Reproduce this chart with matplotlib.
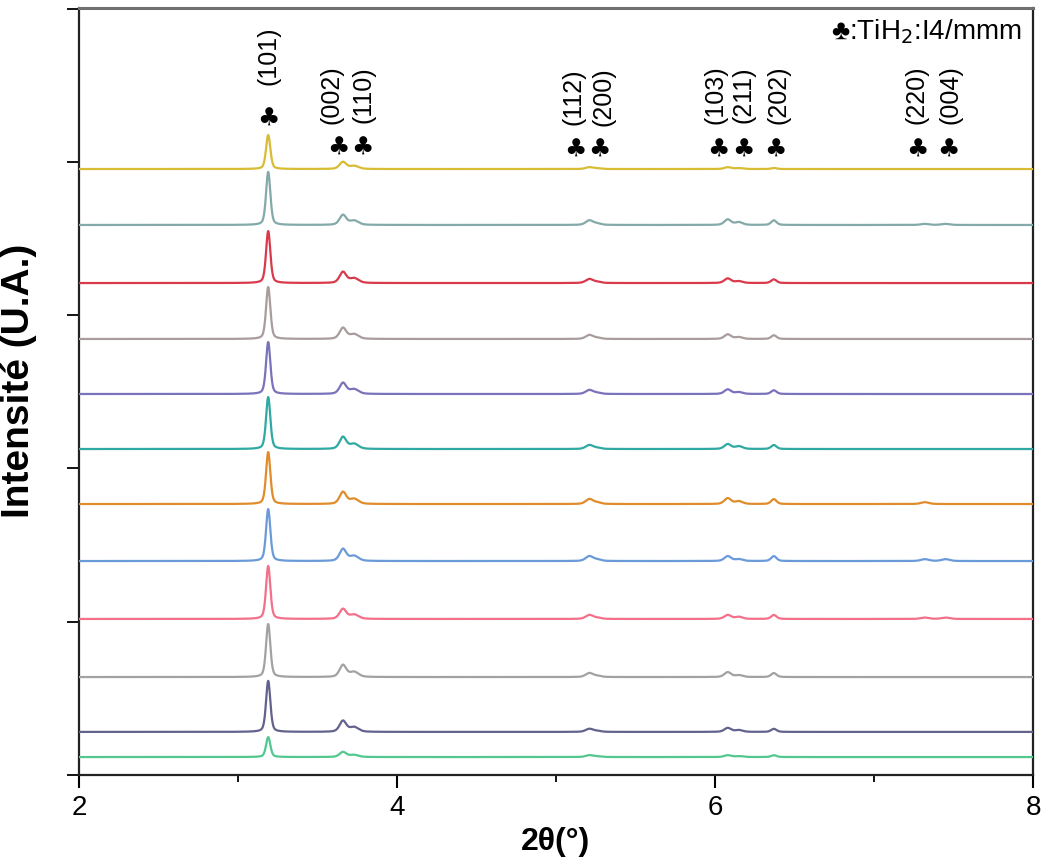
import numpy as np
import matplotlib
matplotlib.use("Agg")
import matplotlib.pyplot as plt
from matplotlib.ticker import MultipleLocator

plt.rcParams['font.family'] = ['Liberation Sans', 'DejaVu Sans']

# ---- data ----
two_theta_range = (2.0, 8.0)

# series, top to bottom
colors = ['#d8bc34', '#84a9a9', '#d83a4c', '#a89c9c', '#7a72ba', '#2fa9a1',
          '#e08c2c', '#6a9ad8', '#f27089', '#a2a2a2', '#62628c', '#52c890']
offsets = [3954, 3589, 3210, 2845, 2486, 2127, 1768, 1396, 1018, 639, 281, 117]

# TiH2 reflections: position (2theta, deg) and FWHM
hkl = ['(101)', '(002)', '(110)', '(112)', '(200)', '(103)', '(211)', '(202)', '(220)', '(004)']
peak_pos = [3.19, 3.66, 3.73, 5.21, 5.26, 6.08, 6.15, 6.37, 7.32, 7.45]
peak_fwhm = [0.032, 0.050, 0.065, 0.055, 0.055, 0.050, 0.055, 0.040, 0.060, 0.060]

# peak heights per series (arbitrary counts), one list per reflection
h101 = [222, 346, 339, 339, 339, 339, 339, 339, 346, 346, 333, 130]
h002 = [46, 65, 72, 72, 72, 78, 78, 78, 65, 78, 72, 33]
h110 = [20, 28, 31, 31, 31, 33, 33, 33, 28, 33, 31, 14]
h112 = [12, 30, 26, 26, 26, 26, 32, 32, 26, 26, 20, 12]
h200 = [4, 9, 7, 7, 7, 7, 9, 9, 7, 7, 6, 4]
h103 = [12, 36, 30, 30, 30, 32, 38, 32, 26, 32, 26, 12]
h211 = [6, 18, 12, 12, 12, 18, 18, 12, 14, 12, 12, 6]
h202 = [7, 30, 24, 24, 24, 26, 32, 32, 26, 26, 20, 12]
h220 = [0, 7, 0, 0, 0, 0, 12, 12, 9, 0, 0, 0]
h004 = [0, 7, 0, 0, 0, 0, 0, 12, 9, 0, 0, 0]
peak_heights = [h101, h002, h110, h112, h200, h103, h211, h202, h220, h004]

# marker groups: x of club symbol, label x, label text
club_x = [3.19, 3.63, 3.785, 5.12, 5.275, 6.02, 6.18, 6.38, 7.27, 7.47]
label_x = [3.19, 3.59, 3.79, 5.11, 5.30, 6.00, 6.18, 6.40, 7.27, 7.48]
club_y = [4290, 4100, 4100, 4085, 4085, 4090, 4090, 4090, 4090, 4090]
label_y = [4700, 4445, 4445, 4435, 4435, 4445, 4445, 4445, 4445, 4445]

# ---- figure ----
fig = plt.figure(figsize=(10.42, 8.62), dpi=100)
ax = fig.add_axes([0.0758, 0.0998, 0.9156, 0.8898])

x = np.arange(two_theta_range[0], two_theta_range[1] + 1e-9, 0.002)

def pvoigt(x, x0, fwhm, eta=0.4):
    s = fwhm / 2.3548
    g = np.exp(-0.5 * ((x - x0) / s) ** 2)
    l = 1.0 / (1.0 + ((x - x0) / (fwhm / 2)) ** 2)
    return eta * l + (1 - eta) * g

for i, (c, off) in enumerate(zip(colors, offsets)):
    y = np.zeros_like(x)
    for pos, w, hs in zip(peak_pos, peak_fwhm, peak_heights):
        if hs[i] > 0:
            y += hs[i] * pvoigt(x, pos, w)
    ax.plot(x, y + off, color=c, lw=1.6, zorder=3)

for cx, cy in zip(club_x, club_y):
    ax.text(cx, cy, '\u2663', ha='center', va='center', fontsize=18,
            fontweight='bold', family=['DejaVu Sans'], color='black')
for lx, ly, t in zip(label_x, label_y, hkl):
    ax.text(lx, ly, t, ha='center', va='center', rotation=90, fontsize=18)

ax.text(0.988, 0.97, '\u2663:TiH$_2$:I4/mmm', transform=ax.transAxes,
        ha='right', va='center', fontsize=20,
        family=['Liberation Sans', 'DejaVu Sans'])

ax.set_xlim(*two_theta_range)
ax.set_ylim(0, 5005)
ax.xaxis.set_major_locator(MultipleLocator(2))
ax.xaxis.set_minor_locator(MultipleLocator(1))
ax.yaxis.set_major_locator(MultipleLocator(1000))
ax.set_yticklabels([])
ax.tick_params(axis='x', which='major', direction='out', length=9, width=1.5,
               labelsize=20, pad=5)
ax.tick_params(axis='x', which='minor', direction='out', length=5, width=1.3)
ax.tick_params(axis='y', which='major', direction='out', length=9, width=1.3)

for side in ['left', 'bottom', 'right']:
    ax.spines[side].set_linewidth(1.6)
    ax.spines[side].set_color('#222222')
ax.spines['top'].set_linewidth(2.2)
ax.spines['top'].set_color('#707070')

ax.set_xlabel('2\u03b8(\u00b0)', fontsize=23, fontweight='bold')
ax.xaxis.set_label_coords(0.499, -0.066)
ax.set_ylabel('Intensité (U.A.)', fontsize=28, fontweight='bold')
ax.yaxis.set_label_coords(-0.044, 0.515)

fig.savefig('out.png', dpi=100)
